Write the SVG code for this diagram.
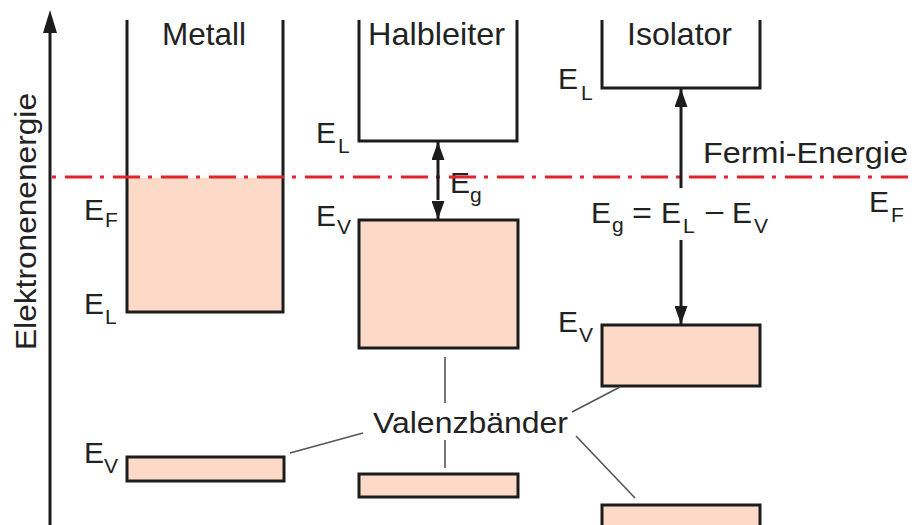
<svg xmlns="http://www.w3.org/2000/svg" width="914" height="525" viewBox="0 0 914 525">
  <style>
    .band { fill: #fdd9c8; stroke: #1c1c1c; stroke-width: 3; }
    .fill { fill: #fdd9c8; stroke: none; }
    .edge { fill: none; stroke: #1c1c1c; stroke-width: 3; stroke-linejoin: miter; }
    .arrow { fill: none; stroke: #1c1c1c; stroke-width: 3; }
    .lead { fill: none; stroke: #555; stroke-width: 1.6; }
    .fermi { fill: none; stroke: #e0242a; stroke-width: 3; stroke-dasharray: 27 8 4 9; stroke-dashoffset: 35; }
    text { font-family: "Liberation Sans", Arial, Helvetica, sans-serif; fill: #222; }
    .lbl { font-size: 30px; }
    .title { font-size: 32px; }
    .e { font-size: 30px; }
    .sub { font-size: 21px; }
  </style>
  <defs>
    <marker id="head" markerUnits="userSpaceOnUse" markerWidth="19" markerHeight="13" refX="18" refY="6.5" orient="auto-start-reverse" viewBox="0 0 19 13">
      <path d="M0,0 L18,6.5 L0,13 z" fill="#1c1c1c"/>
    </marker>
  </defs>

  <!-- energy axis -->
  <g id="axis">
    <line x1="50" y1="30" x2="50" y2="525" class="edge"/>
    <polygon points="50,10 57,33 43,33" fill="#1c1c1c"/>
    <text class="lbl" transform="translate(36,350) rotate(-90)" textLength="257" lengthAdjust="spacingAndGlyphs">Elektronenenergie</text>
  </g>

  <!-- metal: partially filled conduction band -->
  <g id="metall">
    <rect x="127" y="178" width="156" height="134" class="fill"/>
    <path d="M127,20 V312 H283 V20" class="edge"/>
    <rect x="127" y="457" width="157" height="24" class="band"/>
    <text class="title" x="162" y="45" textLength="84" lengthAdjust="spacingAndGlyphs">Metall</text>
    <text class="e" x="84" y="220">E</text><text class="sub" x="105" y="227">F</text>
    <text class="e" x="84" y="314">E</text><text class="sub" x="105" y="324">L</text>
    <text class="e" x="84" y="463">E</text><text class="sub" x="104" y="473">V</text>
  </g>

  <!-- semiconductor -->
  <g id="halbleiter">
    <path d="M359,20 V141 H517 V20" class="edge"/>
    <rect x="359" y="220" width="159" height="128" class="band"/>
    <rect x="359" y="474" width="159" height="23" class="band"/>
    <text class="title" x="368" y="45" textLength="137" lengthAdjust="spacingAndGlyphs">Halbleiter</text>
    <text class="e" x="316" y="143">E</text><text class="sub" x="338" y="153">L</text>
    <text class="e" x="316" y="226">E</text><text class="sub" x="337" y="234">V</text>
    <text class="e" x="450" y="193">E</text><text class="sub" x="470" y="202">g</text>
  </g>

  <!-- insulator -->
  <g id="isolator">
    <path d="M602,20 V88 H760 V20" class="edge"/>
    <rect x="602" y="325" width="158" height="61" class="band"/>
    <rect x="602" y="505" width="158" height="40" class="band"/>
    <text class="title" x="627" y="45" textLength="105" lengthAdjust="spacingAndGlyphs">Isolator</text>
    <text class="e" x="558" y="89">E</text><text class="sub" x="581" y="100">L</text>
    <text class="e" x="558" y="332">E</text><text class="sub" x="579" y="342">V</text>
    <text class="e" x="591" y="223">E</text><text class="sub" x="612" y="232">g</text>
    <text class="e" x="632" y="223" textLength="20" lengthAdjust="spacingAndGlyphs">=</text>
    <text class="e" x="661" y="223">E</text><text class="sub" x="683" y="233">L</text>
    <text class="e" x="704" y="223" textLength="21" lengthAdjust="spacingAndGlyphs">−</text>
    <text class="e" x="732" y="223">E</text><text class="sub" x="754" y="233">V</text>
  </g>

  <!-- Fermi level -->
  <g id="fermi">
    <line x1="52" y1="177" x2="914" y2="177" class="fermi"/>
    <text class="lbl" x="703" y="163" textLength="205" lengthAdjust="spacingAndGlyphs">Fermi-Energie</text>
    <text class="e" x="869" y="212">E</text><text class="sub" x="891" y="222">F</text>
    <text class="lbl" x="373" y="433" textLength="195" lengthAdjust="spacingAndGlyphs">Valenzbänder</text>
  </g>

  <!-- gap arrows and leader lines -->
  <g id="connectors">
    <line x1="438" y1="160" x2="438" y2="200" class="arrow"/>
    <line x1="438" y1="150" x2="438" y2="142" class="arrow" marker-end="url(#head)"/>
    <line x1="438" y1="210" x2="438" y2="219" class="arrow" marker-end="url(#head)"/>
    <line x1="681" y1="188" x2="681" y2="89" class="arrow" marker-end="url(#head)"/>
    <line x1="681" y1="240" x2="681" y2="324" class="arrow" marker-end="url(#head)"/>
    <line x1="445" y1="357" x2="445" y2="403" class="lead"/>
    <line x1="445" y1="440" x2="445" y2="468" class="lead"/>
    <line x1="363" y1="433" x2="290" y2="453" class="lead"/>
    <line x1="572" y1="412" x2="620" y2="387" class="lead"/>
    <line x1="576" y1="436" x2="635" y2="498" class="lead"/>
  </g>
</svg>
